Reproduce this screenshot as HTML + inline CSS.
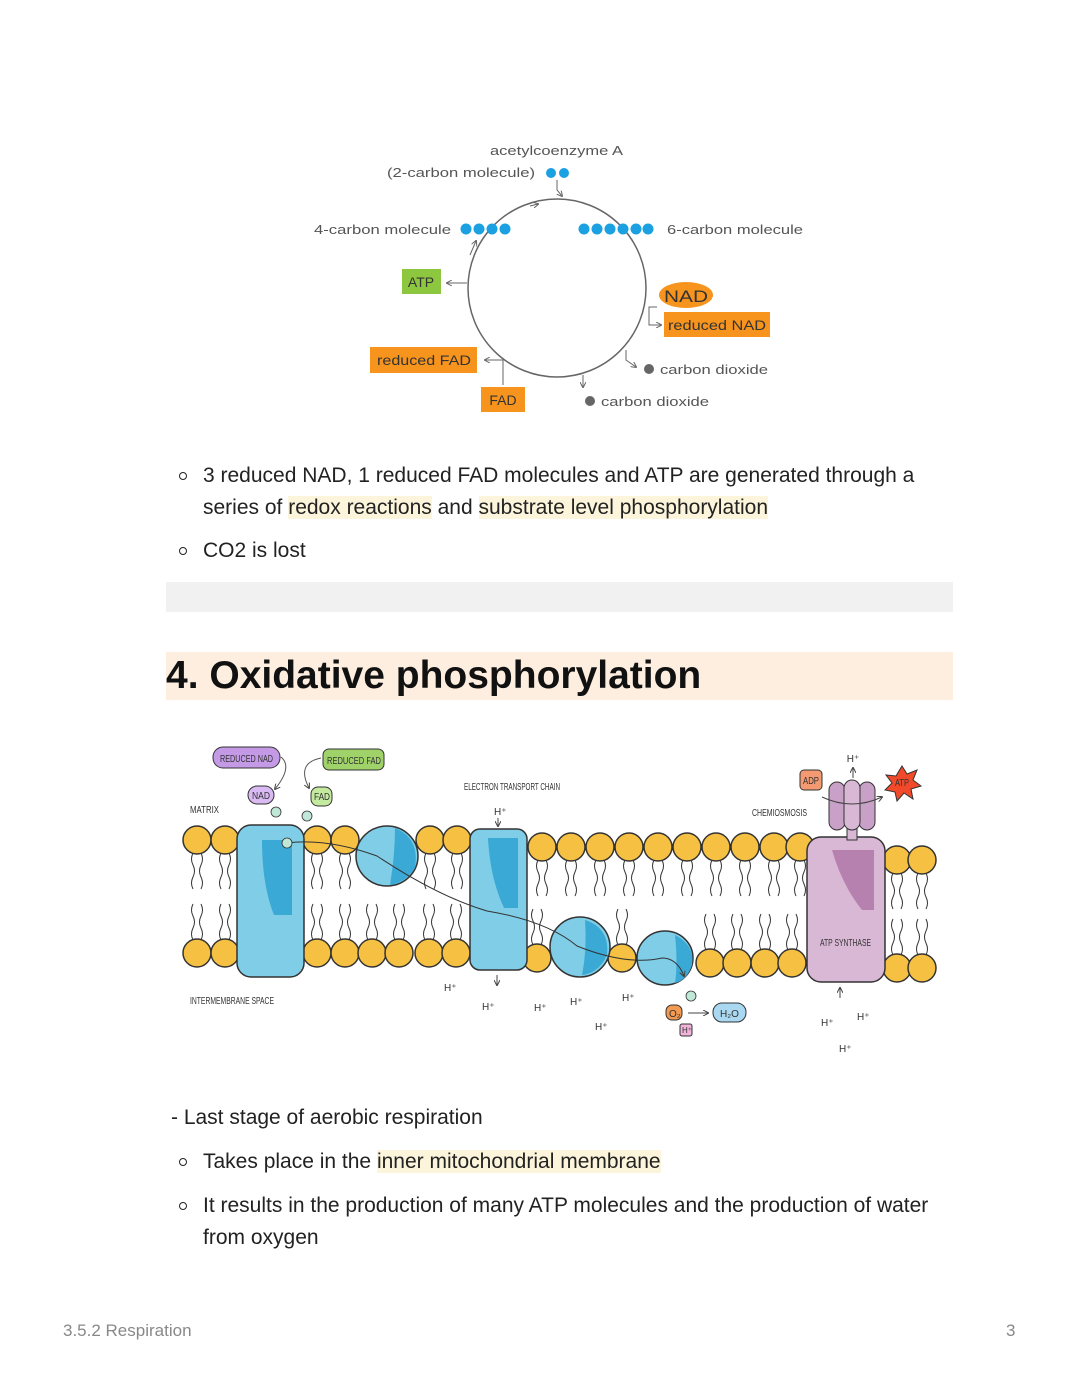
<!DOCTYPE html>
<html><head><meta charset="utf-8"><style>
body{margin:0;background:#fff;}
.page{position:relative;width:1080px;height:1397px;background:#fff;font-family:"Liberation Sans",sans-serif;color:#222;overflow:hidden;}
.t{position:absolute;font-size:21px;white-space:nowrap;line-height:24px;}
.b{position:absolute;width:6px;height:6px;border:1.5px solid #222;border-radius:50%;}
.hl{background:#fcf5dc;}
</style></head><body><div class="page">

<svg width="1080" height="1397" style="position:absolute;left:0;top:0" font-family="Liberation Sans, sans-serif">
<defs>
<marker id="ar" markerWidth="6" markerHeight="6" refX="5" refY="3" orient="auto"><path d="M0,0 L6,3 L0,6" fill="none" stroke="#666" stroke-width="1"/></marker>
<marker id="ar2" markerWidth="6" markerHeight="6" refX="5" refY="3" orient="auto"><path d="M0,0 L6,3 L0,6" fill="none" stroke="#444" stroke-width="1"/></marker>
<g id="lt"><path d="M-4,13 q-3,6 0,12 t0,12 t0,12 M4,13 q3,6 0,12 t0,12 t0,12" fill="none" stroke="#333" stroke-width="1"/><circle r="14" fill="#f6c143" stroke="#333" stroke-width="1.5"/></g>
<g id="lb"><path d="M-4,-13 q-3,-6 0,-12 t0,-12 t0,-12 M4,-13 q3,-6 0,-12 t0,-12 t0,-12" fill="none" stroke="#333" stroke-width="1"/><circle r="14" fill="#f6c143" stroke="#333" stroke-width="1.5"/></g>
</defs>

<!-- Krebs cycle -->
<g fill="#555" font-size="13" lengthAdjust="spacingAndGlyphs">
<circle cx="557" cy="288" r="89" fill="none" stroke="#666" stroke-width="1.5"/>
<text x="490" y="155" textLength="133" lengthAdjust="spacingAndGlyphs">acetylcoenzyme A</text>
<text x="387" y="177" textLength="148" lengthAdjust="spacingAndGlyphs">(2-carbon molecule)</text>
<circle cx="551" cy="173" r="5" fill="#1ba1e2"/><circle cx="564" cy="173" r="5" fill="#1ba1e2"/>
<path d="M557,180 v10 l5,6" fill="none" stroke="#666" marker-end="url(#ar)"/>
<text x="314" y="234" textLength="137" lengthAdjust="spacingAndGlyphs">4-carbon molecule</text>
<g fill="#1ba1e2"><circle cx="466" cy="229" r="5.5"/><circle cx="479" cy="229" r="5.5"/><circle cx="492" cy="229" r="5.5"/><circle cx="505" cy="229" r="5.5"/>
<circle cx="584" cy="229" r="5.5"/><circle cx="597" cy="229" r="5.5"/><circle cx="610" cy="229" r="5.5"/><circle cx="623" cy="229" r="5.5"/><circle cx="636" cy="229" r="5.5"/><circle cx="648" cy="229" r="5.5"/></g>
<text x="667" y="234" textLength="136" lengthAdjust="spacingAndGlyphs">6-carbon molecule</text>
<rect x="402" y="269" width="39" height="25" fill="#8dc63f"/><text x="421" y="287" text-anchor="middle" fill="#333" font-size="14">ATP</text>
<path d="M467,283 h-20" stroke="#666" marker-end="url(#ar)"/>
<ellipse cx="686" cy="295" rx="27" ry="13" fill="#f7941d"/><text x="664" y="302" fill="#333" font-size="17" textLength="44" lengthAdjust="spacingAndGlyphs">NAD</text>
<rect x="664" y="312" width="106" height="25" fill="#f7941d"/><text x="668" y="330" fill="#333" font-size="14" textLength="98" lengthAdjust="spacingAndGlyphs">reduced NAD</text>
<path d="M657,307 h-8 v18 l12,0" fill="none" stroke="#666" marker-end="url(#ar)"/>
<rect x="370" y="347" width="107" height="26" fill="#f7941d"/><text x="377" y="365" fill="#333" font-size="14" textLength="94" lengthAdjust="spacingAndGlyphs">reduced FAD</text>
<rect x="481" y="387" width="44" height="25" fill="#f7941d"/><text x="503" y="405" text-anchor="middle" fill="#333" font-size="14">FAD</text>
<path d="M503,385 v-25 h-18" fill="none" stroke="#666" marker-end="url(#ar)"/>
<path d="M626,350 v10 l10,7" fill="none" stroke="#666" marker-end="url(#ar)"/>
<circle cx="649" cy="369" r="5" fill="#666"/><text x="660" y="374" textLength="108" lengthAdjust="spacingAndGlyphs">carbon dioxide</text>
<path d="M583,375 v12" fill="none" stroke="#666" marker-end="url(#ar)"/>
<circle cx="590" cy="401" r="5" fill="#666"/><text x="601" y="406" textLength="108" lengthAdjust="spacingAndGlyphs">carbon dioxide</text>
<path d="M530,206 l8,-2" stroke="#666" marker-end="url(#ar)"/>
<path d="M470,255 l6,-14" stroke="#666" marker-end="url(#ar)"/>
</g>

<rect x="166" y="582" width="787" height="30" fill="#f1f1f1"/>
<rect x="166" y="652" width="787" height="48" fill="#fdeee0"/>

<!-- membrane -->
<g fill="#333" font-size="10">
<use href="#lt" x="197" y="840"/><use href="#lt" x="225" y="840"/><use href="#lt" x="317" y="840"/><use href="#lt" x="345" y="840"/>
<use href="#lt" x="430" y="840"/><use href="#lt" x="457" y="840"/>
<use href="#lt" x="542" y="847"/><use href="#lt" x="571" y="847"/><use href="#lt" x="600" y="847"/><use href="#lt" x="629" y="847"/><use href="#lt" x="658" y="847"/><use href="#lt" x="687" y="847"/><use href="#lt" x="716" y="847"/><use href="#lt" x="745" y="847"/><use href="#lt" x="774" y="847"/><use href="#lt" x="800" y="847"/>
<use href="#lt" x="897" y="860"/><use href="#lt" x="922" y="860"/>
<use href="#lb" x="197" y="953"/><use href="#lb" x="225" y="953"/><use href="#lb" x="317" y="953"/><use href="#lb" x="345" y="953"/><use href="#lb" x="372" y="953"/><use href="#lb" x="399" y="953"/>
<use href="#lb" x="429" y="953"/><use href="#lb" x="456" y="953"/><use href="#lb" x="537" y="958"/><use href="#lb" x="622" y="958"/>
<use href="#lb" x="710" y="963"/><use href="#lb" x="737" y="963"/><use href="#lb" x="765" y="963"/><use href="#lb" x="792" y="963"/>
<use href="#lb" x="897" y="968"/><use href="#lb" x="922" y="968"/>

<rect x="237" y="825" width="67" height="152" rx="14" fill="#7fcde6" stroke="#333" stroke-width="1.5"/>
<path d="M262,840 h30 v75 h-18 q-12,-30 -12,-75z" fill="#3aa9d6"/>
<ellipse cx="387" cy="856" rx="31" ry="30" fill="#7fcde6" stroke="#333" stroke-width="1.5"/>
<path d="M395,828 q25,10 20,40 q-10,15 -25,17 q5,-30 5,-57z" fill="#3aa9d6"/>
<rect x="470" y="829" width="57" height="141" rx="10" fill="#7fcde6" stroke="#333" stroke-width="1.5"/>
<path d="M488,838 h30 v70 h-14 q-14,-30 -16,-70z" fill="#3aa9d6"/>
<ellipse cx="580" cy="947" rx="30" ry="30" fill="#7fcde6" stroke="#333" stroke-width="1.5"/>
<path d="M585,920 q25,8 22,35 q-8,18 -25,20 q5,-25 3,-55z" fill="#3aa9d6"/>
<ellipse cx="665" cy="958" rx="28" ry="27" fill="#7fcde6" stroke="#333" stroke-width="1.5"/>
<path d="M675,935 q20,10 17,30 q-5,15 -17,18 q3,-20 0,-48z" fill="#3aa9d6"/>
<rect x="807" y="837" width="78" height="145" rx="14" fill="#d9b8d6" stroke="#333" stroke-width="1.5"/>
<path d="M832,850 h42 v60 h-12 q-20,-25 -30,-60z" fill="#b681ae"/>
<rect x="847" y="826" width="10" height="14" fill="#d9b8d6" stroke="#333"/>
<rect x="829" y="782" width="16" height="48" rx="8" fill="#c9a0c7" stroke="#333"/>
<rect x="859" y="782" width="16" height="48" rx="8" fill="#c9a0c7" stroke="#333"/>
<rect x="844" y="780" width="16" height="50" rx="8" fill="#d9b8d6" stroke="#333"/>
<path d="M822,797 q30,14 60,0" fill="none" stroke="#444" marker-end="url(#ar2)"/>
<rect x="800" y="770" width="22" height="20" rx="4" fill="#f39a72" stroke="#333"/><text x="803" y="784" textLength="16" lengthAdjust="spacingAndGlyphs">ADP</text>
<polygon points="902,766 907,774 917,770 913,780 921,786 911,789 913,799 904,793 897,801 895,792 885,790 892,783 886,775 896,776" fill="#f04a2a" stroke="#333"/>
<text x="895" y="786" textLength="14" lengthAdjust="spacingAndGlyphs">ATP</text>
<text x="853" y="762" text-anchor="middle">H⁺</text><path d="M853,778 v-10" stroke="#444" marker-end="url(#ar2)"/>

<path d="M287,843 q40,-5 90,13 q60,40 110,55 q60,10 90,35 q50,20 85,12 q15,0 22,18" fill="none" stroke="#333" stroke-width="1" marker-end="url(#ar2)"/>
<circle cx="287" cy="843" r="5" fill="#bfe8d8" stroke="#333" stroke-width="0.8"/>

<rect x="213" y="747" width="67" height="21" rx="10" fill="#c49ae6" stroke="#333"/><text x="220" y="762" textLength="53" lengthAdjust="spacingAndGlyphs">REDUCED NAD</text>
<rect x="323" y="749" width="61" height="21" rx="6" fill="#9fd36a" stroke="#333"/><text x="327" y="764" textLength="54" lengthAdjust="spacingAndGlyphs">REDUCED FAD</text>
<rect x="248" y="786" width="26" height="18" rx="9" fill="#d9baf2" stroke="#333"/><text x="252" y="799" textLength="18" lengthAdjust="spacingAndGlyphs">NAD</text>
<rect x="311" y="787" width="21" height="19" rx="7" fill="#c4eaa0" stroke="#333"/><text x="314" y="800" textLength="16" lengthAdjust="spacingAndGlyphs">FAD</text>
<path d="M281,757 q12,10 -6,32" fill="none" stroke="#555" marker-end="url(#ar2)"/>
<path d="M321,758 q-25,5 -12,30" fill="none" stroke="#555" marker-end="url(#ar2)"/>
<circle cx="276" cy="812" r="5" fill="#bfe8d8" stroke="#333" stroke-width="0.8"/><circle cx="307" cy="816" r="5" fill="#bfe8d8" stroke="#333" stroke-width="0.8"/>
<text x="190" y="813" textLength="29" lengthAdjust="spacingAndGlyphs">MATRIX</text>
<text x="464" y="790" textLength="96" lengthAdjust="spacingAndGlyphs">ELECTRON TRANSPORT CHAIN</text>
<text x="752" y="816" textLength="55" lengthAdjust="spacingAndGlyphs">CHEMIOSMOSIS</text>
<text x="190" y="1004" textLength="84" lengthAdjust="spacingAndGlyphs">INTERMEMBRANE SPACE</text>
<text x="820" y="946" textLength="51" lengthAdjust="spacingAndGlyphs">ATP SYNTHASE</text>
<text x="494" y="815">H⁺</text><path d="M498,818 v8" stroke="#444" marker-end="url(#ar2)"/>
<path d="M497,975 v10" stroke="#444" marker-end="url(#ar2)"/>
<text x="444" y="991">H⁺</text><text x="482" y="1010">H⁺</text><text x="534" y="1011">H⁺</text><text x="570" y="1005">H⁺</text><text x="622" y="1001">H⁺</text><text x="595" y="1030">H⁺</text>
<circle cx="691" cy="996" r="5" fill="#bfe8d8" stroke="#333" stroke-width="0.8"/>
<rect x="666" y="1005" width="16" height="15" rx="6" fill="#f39a52" stroke="#333"/><text x="669" y="1017">O₂</text>
<path d="M688,1013 h20" stroke="#444" marker-end="url(#ar2)"/>
<rect x="713" y="1003" width="33" height="19" rx="9" fill="#a9d8f0" stroke="#333"/><text x="720" y="1017">H₂O</text>
<rect x="680" y="1024" width="12" height="12" rx="2" fill="#f1b3d9" stroke="#333"/><text x="682" y="1033" font-size="8">H⁺</text>
<path d="M840,998 v-10" stroke="#444" marker-end="url(#ar2)"/>
<text x="821" y="1026">H⁺</text><text x="857" y="1020">H⁺</text><text x="839" y="1052">H⁺</text>
</g>
</svg>

<div class="b" style="left:179px;top:472px"></div>
<div class="t" style="left:203px;top:464px">3 reduced NAD, 1 reduced FAD molecules and ATP are generated through a</div>
<div class="t" style="left:203px;top:496px">series of <span class="hl">redox reactions</span> and <span class="hl">substrate level phosphorylation</span></div>
<div class="b" style="left:179px;top:547px"></div>
<div class="t" style="left:203px;top:539px">CO2 is lost</div>

<div class="t" style="left:166px;top:655px;font-size:39px;line-height:42px;font-weight:bold;color:#111">4. Oxidative phosphorylation</div>

<div class="t" style="left:171px;top:1106px">- Last stage of aerobic respiration</div>
<div class="b" style="left:179px;top:1158px"></div>
<div class="t" style="left:203px;top:1150px">Takes place in the <span class="hl">inner mitochondrial membrane</span></div>
<div class="b" style="left:179px;top:1202px"></div>
<div class="t" style="left:203px;top:1194px">It results in the production of many ATP molecules and the production of water</div>
<div class="t" style="left:203px;top:1226px">from oxygen</div>

<div class="t" style="left:63px;top:1319px;font-size:17px;color:#888">3.5.2 Respiration</div>
<div class="t" style="left:1006px;top:1319px;font-size:17px;color:#888">3</div>
</div></body></html>
